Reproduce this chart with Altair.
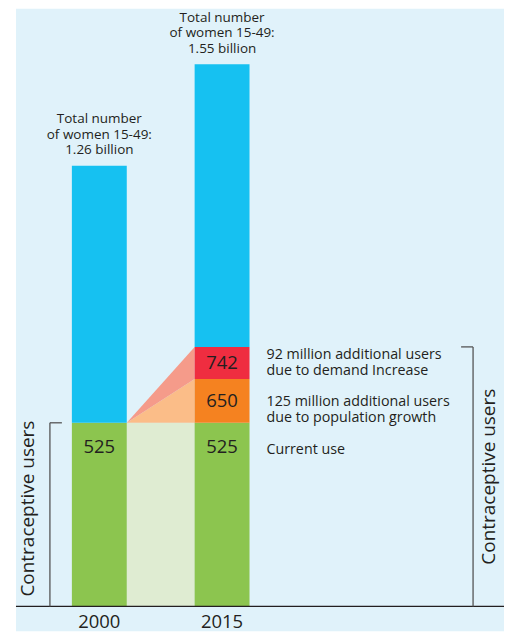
import altair as alt
import pandas as pd

# ---- data (millions) ----
years = ["2000", "2015"]
total_women = [1260, 1550]
current_use = [525, 525]
pop_growth = [0, 125]
demand_increase = [0, 92]
annotations = [
    ["92 million additional users", "due to demand Increase"],
    ["125 million additional users", "due to population growth"],
    ["Current use"],
]

BLUE = "#16c1f1"
GREEN = "#8cc54f"
ORANGE = "#f58220"
RED = "#ef2d40"
SALMON = "#f59b8a"
PEACH = "#fbbd88"
PALEGREEN = "#dfecd2"
BG = "#e0f2fa"
INK = "#231f20"
FONT = "Open Sans"

HW = 0.2236  # half bar width in x units

# segments
seg_rows = []
for i, yr in enumerate(years):
    c = current_use[i]
    p = c + pop_growth[i]
    d = p + demand_increase[i]
    seg_rows.append(dict(year=yr, pos=i, lo=0, hi=c, fill=GREEN))
    if pop_growth[i]:
        seg_rows.append(dict(year=yr, pos=i, lo=c, hi=p, fill=ORANGE))
    if demand_increase[i]:
        seg_rows.append(dict(year=yr, pos=i, lo=p, hi=d, fill=RED))
    seg_rows.append(dict(year=yr, pos=i, lo=d, hi=total_women[i], fill=BLUE))
seg = pd.DataFrame(seg_rows)

# value labels
lab_rows = []
for i, yr in enumerate(years):
    c = current_use[i]
    p = c + pop_growth[i]
    d = p + demand_increase[i]
    lab_rows.append(dict(pos=i, y=c, label=str(c), dy=24))
    if pop_growth[i]:
        lab_rows.append(dict(pos=i, y=(c + p) / 2, label=str(p), dy=0))
    if demand_increase[i]:
        lab_rows.append(dict(pos=i, y=(p + d) / 2, label=str(d), dy=0))
labs = pd.DataFrame(lab_rows)

# connectors between bars
c0 = current_use[0]
c1 = current_use[1]
p1 = c1 + pop_growth[1]
d1 = p1 + demand_increase[1]
conn = pd.DataFrame([
    dict(k="a", x=HW, y=c0, y2=0),
    dict(k="a", x=1 - HW, y=c1, y2=0),
    dict(k="b", x=HW, y=c0, y2=c0),
    dict(k="b", x=1 - HW, y=p1, y2=c1),
    dict(k="c", x=HW, y=c0, y2=c0),
    dict(k="c", x=1 - HW, y=d1, y2=p1),
])

top_rows = []
for i, t in enumerate(total_women):
    lines = ["Total number", "of women 15-49:", f"{t/1000:.2f} billion"]
    for j, ln in enumerate(lines):
        top_rows.append(dict(pos=i, y=t, label=ln, dy=-15.5 * (len(lines) - j) - 7))
tops = pd.DataFrame(top_rows)

yrs = pd.DataFrame(dict(pos=[0, 1], year=years, y=[0, 0]))

ann_y = [(p1 + d1) / 2, (c1 + p1) / 2, c1]
ann_base = [-8, 1, 27]
ann_rows = []
for k, lines in enumerate(annotations):
    for j, ln in enumerate(lines):
        ann_rows.append(dict(y=ann_y[k], label=ln, dy=ann_base[k] + 16 * j))
ann = pd.DataFrame(ann_rows)

xs = alt.Scale(domain=[-0.6789, 3.2967], nice=False, zero=False)
ys = alt.Scale(domain=[-71.3, 1709.1], nice=False, zero=False)
X = lambda f: alt.X(f, type="quantitative", scale=xs, axis=None)
Y = lambda f: alt.Y(f, type="quantitative", scale=ys, axis=None, stack=None)


def text_layers(df, x_enc, **kw):
    out = []
    for dy in sorted(df["dy"].unique()):
        sub = df[df["dy"] == dy]
        out.append(
            alt.Chart(sub).mark_text(font=FONT, color=INK, dy=float(dy), **kw)
            .encode(x=x_enc, y=Y("y"), text="label:N")
        )
    return out


bars = alt.Chart(seg).transform_calculate(
    x0=f"datum.pos - {HW}", x1=f"datum.pos + {HW}"
).mark_rect().encode(
    x=X("x0"), x2="x1", y=Y("lo"), y2="hi",
    color=alt.Color("fill:N", scale=None),
)


def conn_area(key, col):
    return alt.Chart(conn).transform_filter(f"datum.k == '{key}'").mark_area(
        color=col, interpolate="linear"
    ).encode(x=X("x"), y=Y("y"), y2="y2")


areas = [conn_area("a", PALEGREEN), conn_area("b", PEACH), conn_area("c", SALMON)]

vals = text_layers(labs, X("pos"), fontSize=18.5, baseline="middle", align="center")
toplab = text_layers(tops, X("pos"), fontSize=13.5, baseline="top", align="center")
annlab = text_layers(ann, alt.value(251), fontSize=14.3, baseline="middle", align="left")

yearlab = alt.Chart(yrs).mark_text(
    font=FONT, fontSize=18.5, color=INK, baseline="middle", align="center", dy=16,
).encode(x=X("pos"), y=Y("y"), text="year:N")

base_rule = alt.Chart(pd.DataFrame(dict(y=[0]))).mark_rule(
    color=INK, strokeWidth=1.3
).encode(y=Y("y"), x=alt.value(0), x2=alt.value(489))

brk = pd.DataFrame(dict(
    side=["L", "R"], top=[c0, d1], bot=[0, 0],
    xv=[34, 458], xt=[46, 446],
))
brk_v = alt.Chart(brk).mark_rule(color="#555555", strokeWidth=1.3).encode(
    x=alt.X("xv:Q", scale=None), y=Y("top"), y2="bot"
)
brk_h = alt.Chart(brk).mark_rule(color="#555555", strokeWidth=1.3).encode(
    x=alt.X("xv:Q", scale=None), x2="xt", y=Y("top")
)
side_lab = alt.Chart(pd.DataFrame(dict(
    t=["Contraceptive users", "Contraceptive users"], xv=[12, 474], yv=[501, 469]
))).mark_text(
    font=FONT, fontSize=19, color=INK, angle=270, align="center", baseline="middle"
).encode(x=alt.X("xv:Q", scale=None), y=alt.Y("yv:Q", scale=None), text="t:N")

chart = alt.layer(
    *areas, bars, *vals, *toplab, yearlab, *annlab, base_rule, brk_v, brk_h, side_lab
).properties(
    width=489, height=624,
    padding={"left": 8, "top": 0, "right": 0, "bottom": 0},
    autosize=alt.AutoSizeParams(type="none"),
    background="white",
).configure_view(stroke=None, fill=BG)

chart.save("out.html", embed_options={"renderer": "svg", "actions": False})
